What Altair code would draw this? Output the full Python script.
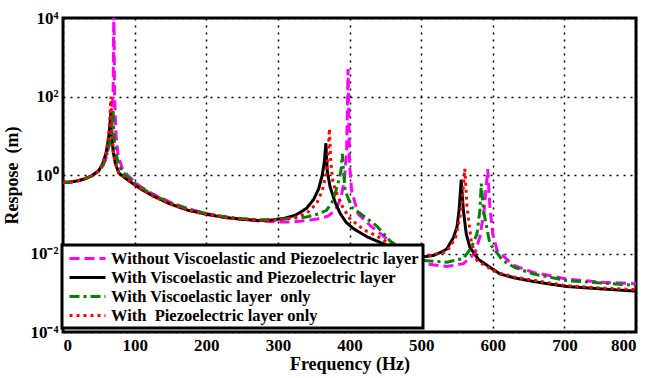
import altair as alt
import pandas as pd

# Series names (legend order)
names = [
    "Without Viscoelastic and Piezoelectric layer",
    "With Viscoelastic and Piezoelectric layer",
    "With Viscoelastic layer\u00a0 only",
    "With\u00a0 Piezoelectric layer only",
]

# Values: frequency (Hz) and log10 of response (m)
freq_without = [0, 10, 20, 30, 40, 50, 55, 60, 65, 68, 70, 71, 72, 74, 77, 83, 90, 100, 110, 125,
                150, 175, 200, 225, 250, 275, 300, 317, 340, 355, 370, 380, 388, 393, 396, 398, 400, 403, 412, 429,
                445, 461, 480, 503, 536, 559, 575, 582, 588, 593, 596, 600, 606, 629, 656, 703, 750, 800]
logr_without = [-0.19, -0.18, -0.15, -0.1, -0.03, 0.1, 0.2, 0.42, 0.8, 1.3, 2.2, 4.3, 2.0, 1.0, 0.5, 0.15, 0.0, -0.17, -0.32, -0.48,
                -0.7, -0.86, -0.98, -1.07, -1.13, -1.17, -1.2, -1.2, -1.16, -1.12, -1.05, -0.9, -0.6, -0.1, 0.62, 2.7, 0.3, -0.4, -0.99, -1.29,
                -1.52, -1.75, -2.05, -2.26, -2.33, -2.26, -2.0, -1.58, -0.9, 0.15, -0.8, -1.5, -1.92, -2.3, -2.48, -2.65, -2.73, -2.77]

freq_both = [0, 10, 20, 30, 40, 50, 55, 60, 63, 65, 66, 67, 68, 70, 73, 78, 85, 90, 100, 110,
             125, 150, 175, 200, 225, 250, 275, 290, 310, 325, 340, 350, 357, 362, 365, 367, 369, 373, 380, 387,
             395, 405, 425, 447, 470, 490, 505, 517, 530, 536, 545, 550, 553, 556, 559, 563, 568, 580, 596, 610,
             630, 656, 680, 703, 750, 800]
logr_both = [-0.19, -0.18, -0.15, -0.1, -0.02, 0.12, 0.27, 0.55, 0.85, 1.15, 1.4, 1.6, 1.1, 0.6, 0.3, 0.05, -0.05, -0.12, -0.25, -0.37,
             -0.53, -0.74, -0.9, -1.0, -1.08, -1.13, -1.16, -1.15, -1.1, -1.02, -0.85, -0.62, -0.35, 0.0, 0.35, 0.81, 0.1, -0.31, -0.7, -0.98,
             -1.2, -1.36, -1.58, -1.75, -1.93, -2.05, -2.08, -2.05, -1.95, -1.88, -1.6, -1.33, -0.9, -0.12, -0.9, -1.5, -1.84, -2.15, -2.35, -2.52,
             -2.62, -2.71, -2.78, -2.84, -2.9, -2.96]

freq_visco = [0, 10, 20, 30, 40, 50, 55, 60, 65, 68, 70, 71, 73, 77, 83, 90, 100, 110, 125, 150,
              175, 200, 225, 250, 275, 300, 320, 340, 355, 368, 377, 384, 388, 390, 392, 394, 403, 420, 438, 456,
              480, 503, 536, 559, 570, 578, 582, 584, 587, 596, 614, 630, 656, 703, 750, 800]
logr_visco = [-0.19, -0.18, -0.15, -0.1, -0.03, 0.1, 0.22, 0.45, 0.8, 1.2, 1.67, 1.0, 0.65, 0.3, 0.08, -0.05, -0.2, -0.33, -0.5, -0.71,
              -0.87, -0.98, -1.06, -1.11, -1.14, -1.13, -1.1, -1.07, -1.0, -0.9, -0.65, -0.22, 0.1, 0.54, 0.0, -0.4, -0.82, -1.05, -1.3, -1.67,
              -2.0, -2.18, -2.22, -2.13, -1.85, -1.5, -0.9, -0.22, -0.9, -1.75, -2.18, -2.35, -2.52, -2.69, -2.75, -2.81]

freq_piezo = [0, 10, 20, 30, 40, 50, 55, 60, 63, 65, 66, 67, 68, 70, 73, 78, 85, 90, 100, 110,
              125, 150, 175, 200, 225, 250, 275, 300, 320, 340, 354, 362, 367, 370, 372, 374, 377, 383, 390, 400,
              420, 438, 460, 480, 500, 520, 536, 548, 555, 558, 561, 564, 570, 578, 596, 610, 630, 656, 703, 750,
              800]
logr_piezo = [-0.19, -0.18, -0.15, -0.1, -0.02, 0.12, 0.27, 0.55, 0.9, 1.3, 1.7, 2.0, 1.2, 0.62, 0.3, 0.05, -0.05, -0.12, -0.25, -0.37,
              -0.53, -0.74, -0.9, -1.0, -1.08, -1.13, -1.16, -1.15, -1.1, -0.98, -0.73, -0.4, 0.0, 0.5, 1.18, 0.3, -0.2, -0.5, -0.8, -1.1,
              -1.4, -1.55, -1.8, -1.95, -2.1, -2.02, -1.95, -1.6, -1.0, -0.5, 0.16, -0.8, -1.7, -2.18, -2.38, -2.5, -2.6, -2.68, -2.82, -2.88,
              -2.92]

x_ticks = [0, 100, 200, 300, 400, 500, 600, 700, 800]
y_ticks = [1e-4, 1e-2, 1, 1e2, 1e4]

colors = ["#ff00ff", "#000000", "#008000", "#ff0000"]
dashes = [[10, 5], [1, 0], [10, 4, 3, 4], [3, 4]]

rows = []
for name, fs, ls in zip(names,
                        [freq_without, freq_both, freq_visco, freq_piezo],
                        [logr_without, logr_both, logr_visco, logr_piezo]):
    for f, l in zip(fs, ls):
        rows.append({"Frequency": f, "Response": 10 ** l, "Series": name})
df = pd.DataFrame(rows)

FONT = "Liberation Serif"

label_expr = ("datum.value > 5000 ? '10\u2074' : datum.value > 50 ? '10\u00b2' : "
              "datum.value > 0.5 ? '10\u2070' : datum.value > 0.005 ? '10\u207b\u00b2' : '10\u207b\u2074'")

leg = alt.Legend(title=None, orient="none", legendX=-1, legendY=227)

chart = alt.Chart(df).mark_line(strokeWidth=3, clip=True, strokeCap="butt").encode(
    x=alt.X("Frequency:Q",
            scale=alt.Scale(domain=[0, 800], nice=False),
            axis=alt.Axis(values=x_ticks, title="Frequency (Hz)", labelPadding=5, titlePadding=2)),
    y=alt.Y("Response:Q",
            scale=alt.Scale(type="log", domain=[1e-4, 1e4], nice=False),
            axis=alt.Axis(values=y_ticks, labelExpr=label_expr, title="Respose\u00a0 (m)",
                          labelPadding=5, titlePadding=8)),
    color=alt.Color("Series:N", sort=names,
                    scale=alt.Scale(domain=names, range=colors),
                    legend=leg),
    strokeDash=alt.StrokeDash("Series:N", sort=names,
                              scale=alt.Scale(domain=names, range=dashes),
                              legend=leg),
).properties(
    width=573, height=314,
    autosize=alt.AutoSizeParams(type="none"),
    padding={"left": 63, "top": 18, "right": 13, "bottom": 46},
).configure_view(
    stroke="black", strokeWidth=3
).configure_axis(
    domain=False, ticks=False, grid=True, gridColor="black", gridDash=[2, 5], gridWidth=1.5, gridOpacity=1,
    labelFont=FONT, labelFontWeight="bold", labelFontSize=17, labelColor="black",
    titleFont=FONT, titleFontWeight="bold", titleFontSize=18, titleColor="black",
).configure_legend(
    fillColor="white", strokeColor="black", strokeWidth=3, padding=4, rowPadding=1,
    symbolType="M-2.25,0H2.25", symbolSize=256, symbolStrokeWidth=3, symbolOffset=12,
    labelFont=FONT, labelFontWeight="bold", labelFontSize=16.5, labelColor="black", labelLimit=0,
    labelOffset=14,
)

chart.save("out.html", embed_options={"renderer": "svg", "actions": False})
